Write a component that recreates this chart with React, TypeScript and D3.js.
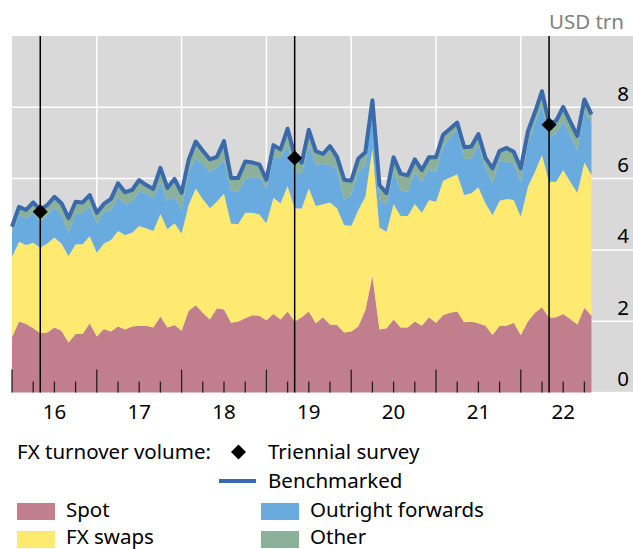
import React from 'react';
import * as d3 from 'd3';

// monthly observations, month-end, Dec 2015 .. Oct 2022
const months = d3.timeMonth.range(new Date(2015, 11, 1), new Date(2022, 10, 1));

const spot = [
  1.55, 1.99, 1.92, 1.80, 1.66, 1.68, 1.82, 1.73, 1.40, 1.64, 1.64, 1.94,
  1.57, 1.78, 1.71, 1.85, 1.77, 1.85, 1.87, 1.87, 1.82, 2.13, 1.82, 1.89,
  1.73, 2.29, 2.45, 2.24, 2.05, 2.36, 2.33, 1.96, 1.99, 2.08, 2.17, 2.15,
  2.03, 2.20, 2.05, 2.27, 1.99, 2.11, 2.27, 1.94, 2.11, 1.91, 1.89, 1.68,
  1.71, 1.85, 2.31, 3.27, 1.77, 1.80, 2.05, 1.82, 1.82, 1.99, 1.87, 2.11,
  1.96, 2.17, 2.24, 2.27, 1.97, 1.99, 1.94, 1.87, 1.61, 1.87, 1.87, 1.96,
  1.61, 1.99, 2.24, 2.39, 2.10, 2.11, 2.20, 2.06, 1.91, 2.38, 2.15,
];
const fxSwaps = [
  2.26, 2.24, 2.22, 2.40, 2.40, 2.50, 2.53, 2.45, 2.43, 2.52, 2.52, 2.45,
  2.35, 2.40, 2.57, 2.68, 2.65, 2.63, 2.80, 2.74, 2.71, 2.88, 2.76, 2.86,
  2.73, 2.98, 3.27, 3.19, 3.12, 3.00, 3.25, 2.78, 2.73, 2.96, 2.87, 2.85,
  2.72, 3.26, 3.26, 3.52, 3.18, 3.05, 3.46, 3.29, 3.17, 3.42, 3.28, 3.02,
  2.96, 3.27, 3.18, 3.58, 2.86, 2.71, 3.24, 3.13, 3.13, 3.30, 3.17, 3.29,
  3.39, 3.77, 3.79, 3.85, 3.57, 3.60, 3.82, 3.44, 3.37, 3.51, 3.56, 3.44,
  3.32, 3.78, 3.95, 4.27, 3.81, 3.80, 4.04, 3.85, 3.69, 4.07, 3.95,
];
const outrightForwards = [
  0.67, 0.75, 0.75, 0.84, 0.73, 0.80, 0.84, 0.80, 0.65, 0.87, 0.87, 0.82,
  0.83, 0.89, 0.84, 0.96, 0.86, 0.87, 0.96, 0.98, 0.92, 0.89, 0.80, 0.74,
  0.66, 0.92, 0.85, 0.98, 1.02, 0.96, 0.94, 0.91, 0.91, 0.94, 1.00, 1.04,
  0.98, 1.15, 1.26, 1.15, 1.02, 0.96, 1.21, 1.15, 1.13, 1.05, 1.07, 0.70,
  0.87, 1.07, 0.89, 1.03, 0.77, 0.75, 0.90, 0.71, 0.68, 0.88, 0.87, 0.84,
  0.84, 0.96, 1.12, 1.24, 1.03, 0.95, 1.18, 1.01, 0.89, 1.14, 1.04, 1.03,
  0.98, 1.22, 1.36, 1.40, 1.22, 1.36, 1.36, 1.31, 1.20, 1.43, 1.45,
];
const other = [
  0.17, 0.23, 0.23, 0.29, 0.33, 0.28, 0.30, 0.33, 0.41, 0.32, 0.30, 0.33,
  0.29, 0.22, 0.31, 0.38, 0.34, 0.33, 0.33, 0.23, 0.26, 0.40, 0.36, 0.50,
  0.48, 0.34, 0.47, 0.37, 0.35, 0.29, 0.53, 0.37, 0.39, 0.50, 0.41, 0.36,
  0.24, 0.33, 0.25, 0.46, 0.46, 0.33, 0.43, 0.39, 0.28, 0.53, 0.37, 0.57,
  0.40, 0.37, 0.36, 0.32, 0.42, 0.33, 0.41, 0.48, 0.46, 0.37, 0.33, 0.36,
  0.41, 0.33, 0.25, 0.21, 0.31, 0.36, 0.31, 0.26, 0.42, 0.26, 0.39, 0.32,
  0.38, 0.33, 0.31, 0.39, 0.42, 0.35, 0.41, 0.38, 0.40, 0.34, 0.25,
];

// triennial survey, April of each survey year
const surveyDates = [new Date(2016, 3, 1), new Date(2019, 3, 1), new Date(2022, 3, 1)];
const surveyValues = [5.07, 6.58, 7.51];

const yTicks = [0, 2, 4, 6, 8];
const yearLabels = ['16', '17', '18', '19', '20', '21', '22'];

const keys = ['spot', 'fxSwaps', 'outrightForwards', 'other'];
const colors: any = {
  spot: '#c17f8e',
  fxSwaps: '#fee971',
  outrightForwards: '#69aadf',
  other: '#8bb19a',
};
const lineColor = '#3a6aab';
const font = '"Noto Sans", sans-serif';

// month-end position as decimal year
const monthEnd = (d: Date) => d.getFullYear() + (d.getMonth() + 1) / 12;

export default function App() {
  const W = 633, H = 549;
  const left = 12, right = 633, top = 36, bottom = 392.5;

  const x = d3.scaleLinear().domain([2016, 2016 + (right - left) / 84.8]).range([left, right]);
  const y = d3.scaleLinear().domain([0, 10]).range([bottom, top]);

  const rows = months.map((m, i) => ({
    t: monthEnd(m),
    spot: spot[i],
    fxSwaps: fxSwaps[i],
    outrightForwards: outrightForwards[i],
    other: other[i],
  }));
  const series = d3.stack<any>().keys(keys)(rows);

  const area = d3.area<any>()
    .x(d => x(d.data.t))
    .y0(d => y(d[0]))
    .y1(d => y(d[1]));
  const line = d3.line<any>()
    .x(d => x(d.data.t))
    .y(d => y(d[1]));

  const years = d3.range(2016, 2023);
  const quarters = d3.range(2016, 2023, 0.25).filter(q => q % 1 !== 0);
  const diamond = d3.symbol().type(d3.symbolSquare).size(112)();

  return (
    <svg width={W} height={H} style={{ position: 'absolute', left: 0, top: 0 }} fontFamily={font}>
      <rect x={left} y={top} width={right - left} height={bottom - top} fill="#d9d9d9" />
      {yTicks.map(v => (
        <line key={'g' + v} x1={left} x2={right} y1={y(v)} y2={y(v)} stroke="#fff" strokeWidth={1.5} />
      ))}
      {years.slice(1).map(v => (
        <line key={'v' + v} x1={x(v)} x2={x(v)} y1={top} y2={bottom} stroke="#fff" strokeWidth={1.5} />
      ))}
      {series.map(s => (
        <path key={s.key} d={area(s) as string} fill={colors[s.key]} />
      ))}
      <path d={line(series[series.length - 1]) as string} fill="none" stroke={lineColor} strokeWidth={4} strokeLinejoin="round" />
      {years.map(v => (
        <line key={'mt' + v} x1={x(v)} x2={x(v)} y1={bottom - 23} y2={bottom} stroke="#222" strokeWidth={1.3} />
      ))}
      {quarters.map(v => (
        <line key={'qt' + v} x1={x(v)} x2={x(v)} y1={bottom - 11} y2={bottom} stroke="#222" strokeWidth={1.3} />
      ))}
      {surveyDates.map((d, i) => (
        <g key={'s' + i}>
          <line x1={x(monthEnd(d))} x2={x(monthEnd(d))} y1={top} y2={bottom} stroke="#000" strokeWidth={1.5} />
          <path d={diamond as string} transform={`translate(${x(monthEnd(d))},${y(surveyValues[i])}) rotate(45)`} fill="#000" />
        </g>
      ))}
      {yTicks.map(v => (
        <text key={'yl' + v} x={629} y={y(v) - 6.5} textAnchor="end" fontSize={20.5} fill="#000">{v}</text>
      ))}
      {years.map((v, i) => (
        <text key={'xl' + v} x={x(v + 0.5)} y={419} textAnchor="middle" fontSize={20.5} fill="#000">{yearLabels[i]}</text>
      ))}
      <text x={624} y={29} textAnchor="end" fontSize={20.5} fill="#7f7f7f">USD trn</text>

      <text x={17} y={459} fontSize={20.5}>FX turnover volume:</text>
      <path d={diamond as string} transform="translate(238.5,452) rotate(45)" fill="#000" />
      <text x={268} y={459} fontSize={20.5}>Triennial survey</text>
      <line x1={219} x2={256} y1={481} y2={481} stroke={lineColor} strokeWidth={4} />
      <text x={268} y={488} fontSize={20.5}>Benchmarked</text>

      <rect x={17} y={503} width={38} height={17} fill={colors.spot} />
      <text x={66} y={517} fontSize={20.5}>Spot</text>
      <rect x={17} y={531} width={38} height={17} fill={colors.fxSwaps} />
      <text x={66} y={544} fontSize={20.5}>FX swaps</text>
      <rect x={261} y={503} width={38} height={17} fill={colors.outrightForwards} />
      <text x={310} y={517} fontSize={20.5}>Outright forwards</text>
      <rect x={261} y={531} width={38} height={17} fill={colors.other} />
      <text x={310} y={544} fontSize={20.5}>Other</text>
    </svg>
  );
}
